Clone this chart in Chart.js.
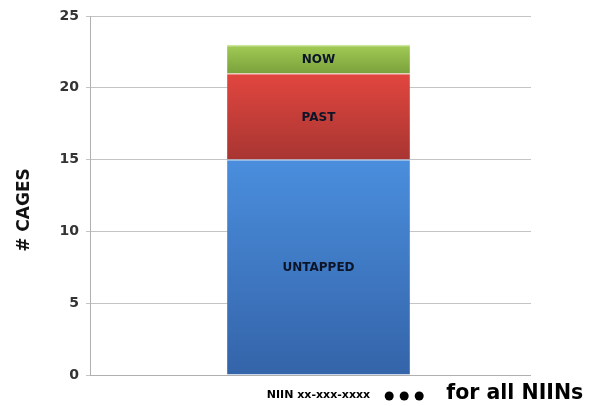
<!DOCTYPE html>
<html><head><meta charset="utf-8">
<script src="https://cdn.jsdelivr.net/npm/chart.js@4/dist/chart.umd.min.js"></script>
<style>html,body{margin:0;padding:0;background:#fff}#wrap{width:597px;height:406px}</style>
</head><body><div id="wrap"><canvas id="c" width="597" height="406"></canvas></div>
<script>
const categories = ["NIIN xx-xxx-xxxx"];
const seriesNames = ["UNTAPPED", "PAST", "NOW"];
const untapped = [15];
const past = [6];
const now = [2];
const yTicks = [0, 5, 10, 15, 20, 25];
const yTitle = "# CAGES";
const trailingNote = "for all NIINs";

const FONT = "'DejaVu Sans', sans-serif";

function grad(top, bottom) {
  return function (ctx) {
    const chart = ctx.chart;
    const ys = chart.scales && chart.scales.y;
    if (!ys || !chart.chartArea || ctx.type !== 'data') return top;
    const di = ctx.dataIndex, dsi = ctx.datasetIndex;
    let base = 0;
    for (let k = 0; k < dsi; k++) base += chart.data.datasets[k].data[di];
    const val = chart.data.datasets[dsi].data[di];
    const y0 = ys.getPixelForValue(base + val), y1 = ys.getPixelForValue(base);
    if (!isFinite(y0) || !isFinite(y1) || Math.abs(y1 - y0) < 1) return top;
    const g = chart.ctx.createLinearGradient(0, y0, 0, y1);
    g.addColorStop(0, top);
    g.addColorStop(1, bottom);
    return g;
  };
}

const coverPlugin = {
  id: 'cover',
  beforeDatasetsDraw(chart) {
    const ctx = chart.ctx, a = chart.chartArea;
    ctx.save();
    ctx.fillStyle = '#fff';
    ctx.fillRect(531, a.top - 2, a.right - 531 + 2, a.bottom - a.top + 4);
    ctx.restore();
  }
};

const labelPlugin = {
  id: 'seglabels',
  afterDatasetsDraw(chart) {
    const ctx = chart.ctx;
    ctx.save();
    ctx.font = "bold 12px " + FONT;
    ctx.fillStyle = '#0c1428';
    ctx.textAlign = 'center';
    ctx.textBaseline = 'middle';
    chart.data.datasets.forEach((ds, i) => {
      const meta = chart.getDatasetMeta(i);
      meta.data.forEach(el => {
        const p = el.getProps(['x', 'y', 'base'], true);
        ctx.fillText(ds.label, p.x, (p.y + p.base) / 2 + 1);
      });
    });
    ctx.restore();
  },
  afterDraw(chart) {
    const ctx = chart.ctx;
    const xs = chart.scales.x;
    const cx = xs.getPixelForValue(0);
    ctx.save();
    // y-axis title
    ctx.font = "bold 17px " + FONT;
    ctx.fillStyle = '#111';
    ctx.textAlign = 'center';
    ctx.textBaseline = 'middle';
    ctx.translate(25, 210);
    ctx.rotate(-Math.PI / 2);
    ctx.fillText(yTitle, 0, 0);
    ctx.restore();

    ctx.save();
    ctx.font = "bold 11px " + FONT;
    const w = ctx.measureText(categories[0]).width;
    const start = cx + w / 2 + 14;
    ctx.fillStyle = '#000';
    for (let k = 0; k < 3; k++) {
      ctx.beginPath();
      ctx.arc(start + 5 + k * 15, 396, 4.5, 0, Math.PI * 2);
      ctx.fill();
    }
    ctx.font = "bold 20.5px " + FONT;
    ctx.textBaseline = 'middle';
    ctx.textAlign = 'left';
    ctx.fillText(trailingNote, start + 62, 394);
    ctx.restore();
  }
};

new Chart(document.getElementById('c'), {
  type: 'bar',
  data: {
    labels: categories,
    datasets: [
      { label: seriesNames[0], data: untapped, backgroundColor: grad('#4a8edd', '#3464a9'), borderColor: '#93bbea', borderWidth: { top: 1.5, left: 0, right: 0, bottom: 0 } },
      { label: seriesNames[1], data: past, backgroundColor: grad('#e2463f', '#a83532'), borderColor: '#ee8a86', borderWidth: { top: 1.5, left: 0, right: 0, bottom: 0 } },
      { label: seriesNames[2], data: now, backgroundColor: grad('#a2cb55', '#7aa13c'), borderColor: '#cbe59c', borderWidth: { top: 1.5, left: 0, right: 0, bottom: 0 } }
    ]
  },
  options: {
    responsive: false,
    animation: false,
    devicePixelRatio: 1,
    layout: { padding: { top: 16, right: 50, bottom: 0, left: 0 } },
    plugins: { legend: { display: false }, tooltip: { enabled: false } },
    datasets: { bar: { barPercentage: 1, categoryPercentage: 0.4, borderSkipped: false } },
    scales: {
      x: {
        stacked: true,
        grid: { display: false, drawTicks: false },
        border: { color: '#b0b0b0', width: 1 },
        ticks: { color: '#000', font: { family: FONT, size: 11, weight: 'bold' }, padding: 14 },
        afterFit(s) { s.height = 31; }
      },
      y: {
        stacked: true,
        min: 0, max: 25,
        afterBuildTicks(s) { s.ticks = yTicks.map(v => ({ value: v })); },
        grid: { color: '#c4c4c4', lineWidth: 1, tickLength: 4 },
        border: { color: '#b0b0b0', width: 1 },
        ticks: { color: '#333', font: { family: FONT, size: 14, weight: 'bold' }, padding: 7 },
        title: { display: false },
        afterFit(s) { s.width = 90; }
      }
    }
  },
  plugins: [coverPlugin, labelPlugin]
});
</script>
</body></html>
